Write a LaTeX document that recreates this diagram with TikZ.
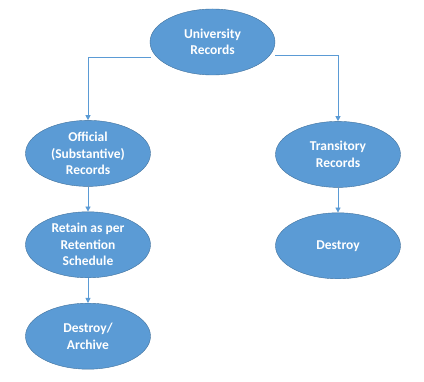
\documentclass[tikz,border=0pt]{standalone}
\usepackage{fontspec}
\setmainfont{Carlito}
\usetikzlibrary{shapes.geometric, arrows.meta, positioning, calc}
\definecolor{recfill}{HTML}{5B9BD5}
\definecolor{recdraw}{HTML}{41719C}

\begin{document}
\begin{tikzpicture}[
    >={Triangle[width=5pt, length=5pt]},
    font=\bfseries\fontsize{13.5}{16.5}\selectfont,
    % Estilos
    recnode/.style={ellipse, draw=recdraw, fill=recfill, text=white, align=center, minimum width=125pt, minimum height=66pt, inner sep=0pt},
    recarrow/.style={->, recfill, thick}
]

% -------------------------
% RAIZ
% -------------------------
\node[recnode] (univ) {University\\Records};

% -------------------------
% RAMA IZQUIERDA
% -------------------------
\node[recnode, below=45pt of univ, xshift=-124.5pt] (official) {Official\\(Substantive)\\Records};
\node[recnode, below=25pt of official] (retain) {Retain as per\\Retention\\Schedule};
\node[recnode, below=25pt of retain] (archive) {Destroy/\\Archive};

% -------------------------
% RAMA DERECHA
% -------------------------
\node[recnode, below=46pt of univ, xshift=125.5pt] (transitory) {Transitory\\Records};
\node[recnode, below=25pt of transitory] (destroy) {Destroy};

% Limites de la figura
\useasboundingbox ($(univ.center)+(-212.5pt,42pt)$) rectangle ++(424pt,-382pt);

% Conexiones
\coordinate (univ_l) at ($(univ.west)+(1pt,-15pt)$);
\coordinate (univ_r) at ($(univ.east)+(0pt,-13pt)$);
\draw[recarrow] (univ_l) -| (official.north);
\draw[recarrow] (univ_r) -| (transitory.north);
\draw[recarrow] (official) -- (retain);
\draw[recarrow] (retain) -- (archive);
\draw[recarrow] (transitory) -- (destroy);

\end{tikzpicture}
\end{document}
